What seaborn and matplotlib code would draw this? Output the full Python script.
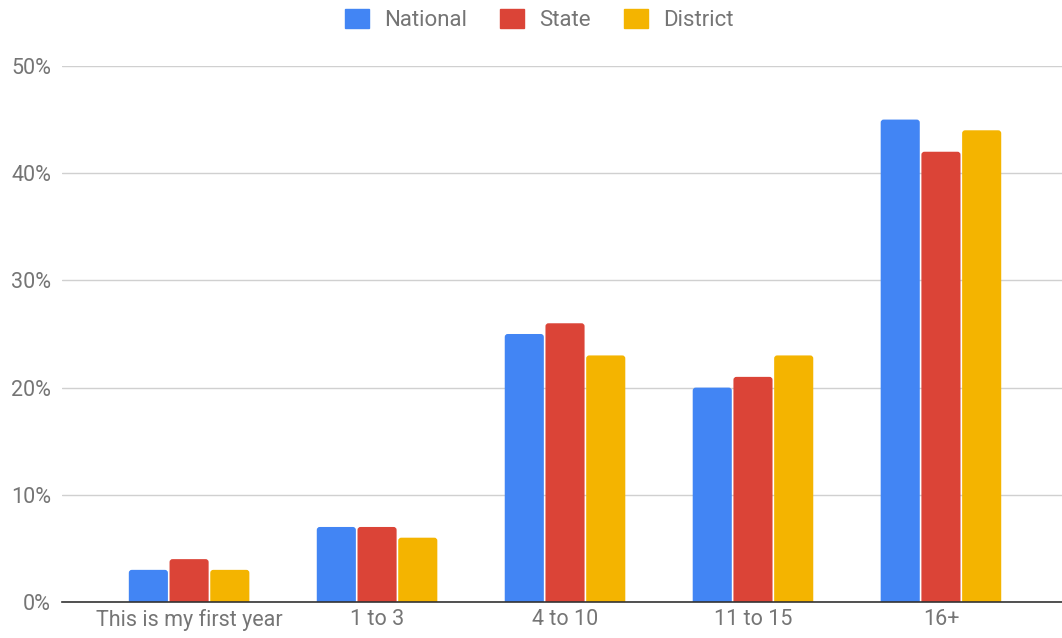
import pandas as pd
import matplotlib.pyplot as plt
import seaborn as sns
from matplotlib.patches import FancyBboxPatch

# Values (percent)
categories = ['This is my first year', '1 to 3', '4 to 10', '11 to 15', '16+']
national = [3, 7, 25, 20, 45]
state = [4, 7, 26, 21, 42]
district = [3, 6, 23, 23, 44]
series = ['National', 'State', 'District']
colors = ['#4285F4', '#DB4437', '#F4B400']

df = pd.DataFrame({
    'category': categories * 3,
    'value': national + state + district,
    'group': [s for s in series for _ in categories],
})

sns.set_style('white')
plt.rcParams['font.family'] = ['Roboto', 'DejaVu Sans']

fig = plt.figure(figsize=(10.62, 6.38), dpi=100)
ax = fig.add_axes([0.0584, 0.0564, 0.9416, 0.8402])

sns.barplot(data=df, x='category', y='value', hue='group', palette=colors,
            saturation=1, width=0.65, gap=0.04, ax=ax, legend=False)

ax.set_ylim(0, 50)
ax.set_xlim(-0.676, 4.644)

# swap the plain bars for ones with slightly rounded top corners
r = 0.016
aspect = 17.5
for p in list(ax.patches):
    x, w, h = p.get_x(), p.get_width(), p.get_height()
    fb = FancyBboxPatch((x, -1), w, h + 1,
                        boxstyle=f'round,pad=0,rounding_size={r}',
                        mutation_aspect=aspect, facecolor=p.get_facecolor(),
                        edgecolor='none', zorder=p.get_zorder())
    p.remove()
    ax.add_patch(fb)

ax.set_yticks([0, 10, 20, 30, 40, 50])
ax.set_yticklabels([f'{t}%' for t in [0, 10, 20, 30, 40, 50]])
ax.yaxis.grid(True, color='#d0d0d0', linewidth=1)
ax.set_axisbelow(True)
for side in ['top', 'right', 'left']:
    ax.spines[side].set_visible(False)
ax.spines['bottom'].set_color('#333333')
ax.spines['bottom'].set_linewidth(1.2)
ax.spines['bottom'].set_zorder(5)
ax.tick_params(axis='both', length=0, labelsize=15.5, labelcolor='#757575')
ax.tick_params(axis='y', pad=8)
ax.tick_params(axis='x', pad=5)
ax.set_xlabel('')
ax.set_ylabel('')

handles = [plt.Rectangle((0, 0), 1, 1, color=c) for c in colors]
leg = fig.legend(handles, series, loc='upper center', bbox_to_anchor=(0.508, 1.018),
                 ncol=3, frameon=False, fontsize=16, handlelength=1.05,
                 handleheight=1.0, columnspacing=1.5, handletextpad=0.7)
for t in leg.get_texts():
    t.set_color('#757575')

fig.savefig('out.png', dpi=100)
plt.close()
